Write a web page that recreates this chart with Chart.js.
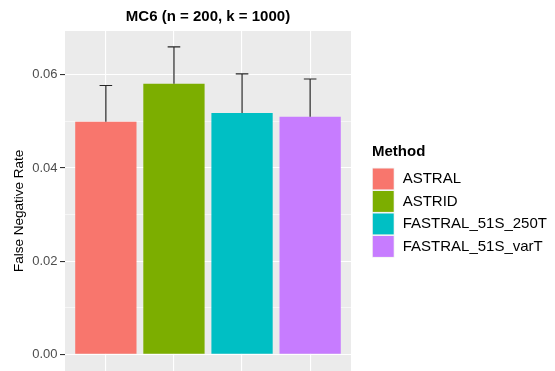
<!DOCTYPE html>
<html>
<head>
<meta charset="utf-8">
<script src="https://cdn.jsdelivr.net/npm/chart.js@4.4.1/dist/chart.umd.min.js"></script>
<style>
html, body { margin: 0; padding: 0; overflow: hidden; background: #fff; }
canvas { display: block; }
</style>
</head>
<body>
<canvas id="grafico" width="555" height="401"></canvas>
<script>
const methods = ['ASTRAL', 'ASTRID', 'FASTRAL_51S_250T', 'FASTRAL_51S_varT'];
const fnr = [0.0499, 0.0581, 0.0518, 0.0510];
const fnrUpper = [0.0577, 0.0660, 0.0602, 0.0591];
const colors = ['#F8766D', '#7CAE00', '#00BFC4', '#C77CFF'];
const yTicks = [0, 0.02, 0.04, 0.06];

const fontFamily = '"Liberation Sans", Arial, sans-serif';
Chart.defaults.font.family = fontFamily;

const isMajor = (v) => yTicks.some(t => Math.abs(t - v) < 1e-9);

// grey panel like ggplot
const panelBg = {
    id: 'panelBg',
    beforeDraw(chart) {
        const { ctx, chartArea: a } = chart;
        ctx.save();
        ctx.fillStyle = '#EBEBEB';
        ctx.fillRect(a.left, a.top, a.right - a.left, a.bottom - a.top);
        ctx.restore();
    }
};

const errorBars = {
    id: 'errorBars',
    afterDatasetsDraw(chart) {
        const { ctx, scales: { x, y } } = chart;
        ctx.save();
        ctx.strokeStyle = '#262626';
        ctx.lineWidth = 1.2;
        methods.forEach((m, i) => {
            const px = x.getPixelForValue(i);
            const base = y.getPixelForValue(fnr[i]);
            const top = y.getPixelForValue(fnrUpper[i]);
            ctx.beginPath();
            ctx.moveTo(px, base);
            ctx.lineTo(px, top);
            ctx.moveTo(px - 6.3, top);
            ctx.lineTo(px + 6.3, top);
            ctx.stroke();
        });
        ctx.restore();
    }
};

// ggplot style legend on the right
const methodLegend = {
    id: 'methodLegend',
    afterDraw(chart) {
        const { ctx, chartArea: a } = chart;
        const left = a.right + 21;
        const top = 167.7;
        const key = 22.5;
        ctx.save();
        ctx.textBaseline = 'middle';
        ctx.textAlign = 'left';
        ctx.fillStyle = '#000000';
        ctx.font = 'bold 15px ' + fontFamily;
        ctx.fillText('Method', left, 152);
        ctx.font = '15px ' + fontFamily;
        methods.forEach((m, i) => {
            const y = top + i * key;
            ctx.fillStyle = '#F2F2F2';
            ctx.fillRect(left, y, key, key);
            ctx.fillStyle = colors[i];
            ctx.fillRect(left + 0.8, y + 0.8, key - 1.6, key - 1.6);
            ctx.fillStyle = '#000000';
            ctx.fillText(m, left + 30.7, y + key / 2);
        });
        ctx.restore();
    }
};

const contexto = document.getElementById('grafico').getContext('2d');

const grafico = new Chart(contexto, {
    type: 'bar',
    data: {
        datasets: [{
            label: 'Method',
            data: methods.map((m, i) => ({ x: i, y: fnr[i] })),
            backgroundColor: colors,
            borderWidth: 0,
            categoryPercentage: 0.9,
            barPercentage: 1.0
        }]
    },
    options: {
        responsive: false,
        animation: false,
        layout: { padding: { left: 0, top: 0, bottom: 0, right: 204 } },
        scales: {
            x: {
                type: 'linear',
                position: 'top',
                offset: false,
                min: -0.6,
                max: 3.6,
                ticks: { display: false, stepSize: 1, includeBounds: false },
                grid: { color: '#FFFFFF', lineWidth: 1.1, drawTicks: false, offset: false },
                border: { display: false },
                title: {
                    display: true,
                    text: 'MC6 (n = 200, k = 1000)',
                    color: '#000000',
                    font: { size: 15, weight: 'bold' },
                    padding: { top: 7.5, bottom: 5.5 }
                }
            },
            y: {
                min: -0.0078,
                max: 0.0694,
                ticks: {
                    stepSize: 0.01,
                    includeBounds: false,
                    color: '#4D4D4D',
                    font: { size: 13 },
                    padding: 2.5,
                    callback: (value) => isMajor(value) ? value.toFixed(2) : ''
                },
                grid: {
                    color: '#FFFFFF',
                    lineWidth: (c) => isMajor(c.tick.value) ? 1.1 : 0.55,
                    tickColor: (c) => isMajor(c.tick.value) ? '#333333' : 'rgba(0,0,0,0)',
                    tickWidth: 1.1,
                    tickLength: 5
                },
                border: { display: false },
                title: {
                    display: true,
                    text: 'False Negative Rate',
                    color: '#000000',
                    font: { size: 13.5 },
                    padding: { top: 11, bottom: 0 }
                },
                afterFit: (s) => { s.width = 65; }
            }
        },
        plugins: {
            tooltip: { enabled: false },
            legend: { display: false }
        }
    },
    plugins: [panelBg, errorBars, methodLegend]
});
</script>
</body>
</html>
